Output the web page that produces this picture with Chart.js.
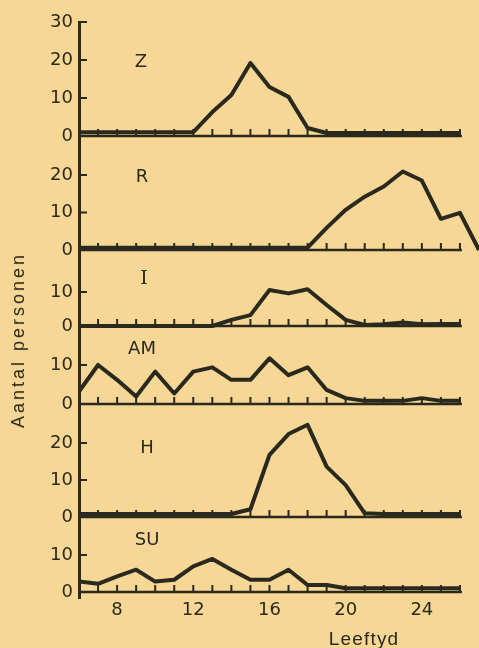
<!DOCTYPE html>
<html>
<head>
<meta charset="utf-8">
<script src="https://cdn.jsdelivr.net/npm/chart.js@4"></script>
<style>
  body { margin: 0; background: #f6d796; }
  #wrap { position: relative; width: 479px; height: 648px; overflow: hidden; background: #f6d796; }
  canvas { position: absolute; left: 0; top: 0; }
  .lbl { position: absolute; color: #2a291e; white-space: nowrap; font-family: "Liberation Sans", Arial, sans-serif; line-height: 1; }
  #ytitle { left: 18px; top: 340px; font-size: 18px; letter-spacing: 3px; transform: translate(-50%, -50%) rotate(-90deg); }
  #xtitle { left: 364px; top: 638px; font-size: 19px; letter-spacing: 1.2px; transform: translate(-50%, -50%); }
</style>
</head>
<body>
<div id="wrap">
  <canvas id="chart" width="479" height="648"></canvas>
  <div class="lbl" id="ytitle">Aantal personen</div>
  <div class="lbl" id="xtitle">Leeftyd</div>
</div>
<script>
// leeftyd (jaren)
const ages = [6, 7, 8, 9, 10, 11, 12, 13, 14, 15, 16, 17, 18, 19, 20, 21, 22, 23, 24, 25, 26, 27];
const xLabels = [8, 12, 16, 20, 24];
const ageTicks = [7, 8, 9, 10, 11, 12, 13, 14, 15, 16, 17, 18, 19, 20, 21, 22, 23, 24, 25, 26];

const panelNames = ['Z', 'R', 'I', 'AM', 'H', 'SU'];

// aantal personen per leeftyd
const zValues  = [1, 1, 1, 1, 1, 1, 1, 6.3, 10.8, 19.2, 12.9, 10.3, 2.1, 0.8, 0.8, 0.8, 0.8, 0.8, 0.8, 0.8, 0.8, null];
const rValues  = [0.6, 0.6, 0.6, 0.6, 0.6, 0.6, 0.6, 0.6, 0.6, 0.6, 0.6, 0.6, 0.6, 5.9, 10.7, 14.2, 16.9, 20.9, 18.5, 8.3, 9.9, 0];
const iValues  = [0, 0, 0, 0, 0, 0, 0, 0, 1.8, 3.2, 10.6, 9.6, 10.8, 6.2, 1.8, 0.3, 0.5, 1, 0.5, 0.6, 0.6, null];
const amValues = [3.2, 10, 6.2, 1.9, 8.3, 2.7, 8.3, 9.4, 6.2, 6.2, 11.7, 7.4, 9.4, 3.6, 1.5, 0.8, 0.8, 0.8, 1.5, 0.8, 0.8, null];
const hValues  = [0.8, 0.8, 0.8, 0.8, 0.8, 0.8, 0.8, 0.8, 0.8, 2.1, 16.8, 22.4, 24.9, 13.6, 8.6, 1, 0.8, 0.8, 0.8, 0.8, 0.8, null];
const suValues = [2.8, 2.2, 4.2, 6, 2.8, 3.3, 6.9, 8.9, 6, 3.3, 3.3, 6, 1.9, 1.9, 1, 1, 1, 1, 1, 1, 1, null];

const yTicks = [[0, 10, 20, 30], [0, 10, 20], [0, 10], [0, 10], [0, 10, 20], [0, 10]];
const series = [zValues, rValues, iValues, amValues, hValues, suValues];

// paneel-indeling: bereik van de y-as en hoogte (px)
const panelRange = [
  { min: -1.84, max: 30,   h: 121 },
  { min: -1.6,  max: 28.5, h: 113 },
  { min: -2.06, max: 20.6, h: 77 },
  { min: -1.54, max: 18.2, h: 77 },
  { min: -1.62, max: 28.9, h: 113 },
  { min: -1.62, max: 18.6, h: 75 }
];
const labelPos = [[141, 62], [142, 177], [144, 279], [142, 349], [147, 448], [147, 540]];

const INK = '#2a291e';
const BASE_END = 26.1;

const scales = {
  x: {
    type: 'linear', position: 'bottom', min: 6, max: 27,
    grid: { display: false, drawTicks: false },
    border: { display: false },
    ticks: { color: INK, padding: 2, autoSkip: false, font: { family: 'DejaVu Sans', size: 18 } },
    afterBuildTicks: s => { s.ticks = xLabels.map(v => ({ value: v })); },
    afterFit: s => { s.height = 50; }
  }
};
// gestapelde assen worden van onder naar boven geplaatst
for (let i = panelNames.length - 1; i >= 0; i--) {
  scales['y' + i] = {
    type: 'linear', position: 'left', stack: 'panels', stackWeight: panelRange[i].h,
    min: panelRange[i].min, max: panelRange[i].max,
    grid: { display: false, drawTicks: false },
    border: { display: true, color: INK, width: 3 },
    ticks: { color: INK, padding: 6, autoSkip: false, font: { family: 'DejaVu Sans', size: 18 } },
    afterBuildTicks: s => { s.ticks = yTicks[i].map(v => ({ value: v })); },
    afterFit: s => { s.width = 79; }
  };
}

// nullijn met streepjes per jaar, korte tikken op de y-as, paneelnamen
const panelFrame = {
  id: 'panelFrame',
  beforeDatasetsDraw(chart) {
    const { ctx } = chart;
    const x = chart.scales.x;
    ctx.save();
    ctx.strokeStyle = INK;
    panelNames.forEach((name, i) => {
      const y = chart.scales['y' + i];
      const y0 = y.getPixelForValue(0);
      ctx.lineWidth = 2.5;
      ctx.beginPath();
      ctx.moveTo(x.left, y0);
      ctx.lineTo(x.getPixelForValue(BASE_END), y0);
      ctx.stroke();
      ctx.lineWidth = 2;
      ctx.beginPath();
      ageTicks.forEach(a => {
        const px = x.getPixelForValue(a);
        ctx.moveTo(px, y0);
        ctx.lineTo(px, y0 - 7);
      });
      yTicks[i].forEach(v => {
        const py = y.getPixelForValue(v);
        ctx.moveTo(x.left, py);
        ctx.lineTo(x.left + 8, py);
      });
      ctx.stroke();
    });
    ctx.restore();
  },
  afterDraw(chart) {
    const { ctx } = chart;
    ctx.save();
    ctx.fillStyle = INK;
    ctx.textAlign = 'center';
    ctx.textBaseline = 'middle';
    panelNames.forEach((name, i) => {
      ctx.font = name === 'I' ? '19px "DejaVu Serif"' : '18px "DejaVu Sans"';
      ctx.fillText(name, labelPos[i][0], labelPos[i][1]);
    });
    ctx.restore();
  }
};

new Chart(document.getElementById('chart'), {
  type: 'line',
  data: {
    labels: ages,
    datasets: series.map((vals, i) => ({
      label: panelNames[i],
      data: ages.map((a, k) => ({ x: a, y: vals[k] })),
      yAxisID: 'y' + i,
      borderColor: INK,
      borderWidth: 4,
      borderJoinStyle: 'round',
      pointRadius: 0,
      tension: 0,
      spanGaps: false
    }))
  },
  options: {
    responsive: false,
    animation: false,
    layout: { padding: { top: 22, left: 0, right: 0, bottom: 0 } },
    plugins: { legend: { display: false }, tooltip: { enabled: false } },
    scales
  },
  plugins: [panelFrame]
});
</script>
</body>
</html>
